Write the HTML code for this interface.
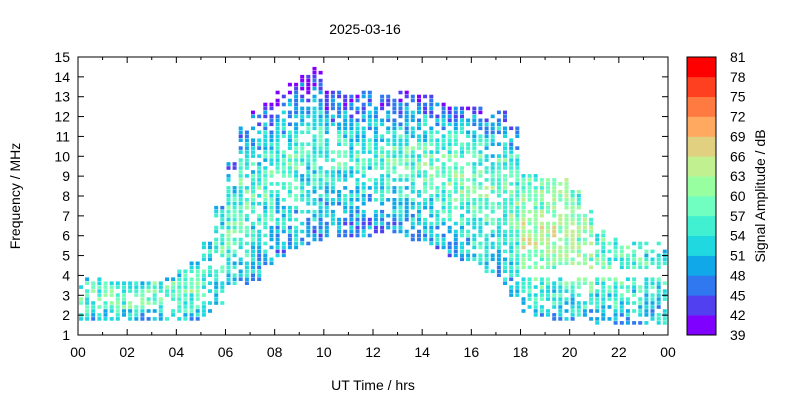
<!DOCTYPE html>
<html><head><meta charset="utf-8"><style>
html,body{margin:0;padding:0;background:#fff;}
svg{display:block;font-family:"Liberation Sans",sans-serif;}
</style></head><body>
<svg id="chart" width="800" height="400" viewBox="0 0 800 400">
<text x="365" y="34" text-anchor="middle" font-size="14">2025-03-16</text>
<g id="cells"></g>
<g id="axes"></g>
<text x="373" y="390" text-anchor="middle" font-size="14">UT Time / hrs</text>
<text transform="translate(20,196) rotate(-90)" text-anchor="middle" font-size="14">Frequency / MHz</text>
<g id="cbar"></g>
<text transform="translate(765,196) rotate(-90)" text-anchor="middle" font-size="14">Signal Amplitude / dB</text>
</svg>
<script>
// band envelope per half hour (t = 0, 0.5, ... 24)
const bandLow = [1.7,1.7,1.7,1.7,1.7,1.7,1.7,1.7,1.7,1.8,1.9,2.5,3.5,3.5,3.8,4.5,5,5.3,5.5,5.8,6,6,6,6,6.1,6.2,6,5.8,5.6,5.3,5,4.7,4.5,4.2,3.5,2.9,2.2,1.9,1.8,1.8,1.7,1.7,1.6,1.6,1.6,1.6,1.6,1.6,1.6];
const bandHigh = [3.9,3.9,3.7,3.7,3.6,3.7,3.8,3.9,4.2,4.6,5.8,7.5,9.7,11.5,12.3,12.7,13.3,13.7,14.2,14.4,13.3,13.3,13.2,13.3,13.2,13.2,13.3,13.2,13.1,12.7,12.6,12.6,12.4,12.2,12.3,11.6,9,9,8.9,8.9,8.3,7.3,6.2,5.9,5.8,5.8,5.8,5.7,5.5];
// hourly amplitude profile (dB) at top / middle / bottom of band
const ampTop = [54,54,54,54,54,50,46,43,41,40,41,42,42,42,43,44,45,47,57,60,58,56,55,54,54];
const ampMid = [58,58,58,59,59,57,58,57,57,56,56,56,57,58,59,60,60,60,63,63,61,58,57,56,56];
const ampBot = [50,50,50,50,51,51,51,50,49,48,48,47,47,48,49,49,50,50,51,51,50,50,50,50,50];
// gap in band (MHz) per hour, 0 = none
const gapLow = [0,0,0,0,0,0,0,0,0,0,0,0,0,0,0,0,0,0,3.9,3.9,3.9,3.9,3.9,3.9,3.9];
const gapHigh = [0,0,0,0,0,0,0,0,0,0,0,0,0,0,0,0,0,0,4.4,4.4,4.4,4.4,4.4,4.4,4.4];
const xTicks = ["00","02","04","06","08","10","12","14","16","18","20","22","00"];
const yTicks = [1,2,3,4,5,6,7,8,9,10,11,12,13,14,15];
const cbLabels = [81,78,75,72,69,66,63,60,57,54,51,48,45,42,39];
const cbColors = ["#8000ff","#5040f0","#3078f0","#10a8e8","#20d8e0","#40f0d0","#70ffc0","#98ffa0","#c0f090","#e0d080","#ffa860","#ff7a40","#ff4020","#ff0000"];

const X0=78,X1=668,Y0=57,Y1=335;
const xs=t=>X0+(X1-X0)*t/24;
const ys=f=>Y1-(Y1-Y0)*(f-1)/14;
const NS="http://www.w3.org/2000/svg";
function mk(tag,attrs,parent){const e=document.createElementNS(NS,tag);for(const k in attrs)e.setAttribute(k,attrs[k]);parent.appendChild(e);return e;}
function colorFor(db){let i=Math.floor((db-39)/3);i=Math.max(0,Math.min(13,i));return cbColors[i];}
function hash(a,b){let h=(a*73856093)^(b*19349663);h=(h^(h>>13))*1274126177;h=h^(h>>16);return ((h>>>0)%1000)/1000;}

const cells=document.getElementById('cells');
for(let c=0;c<96;c++){
  const t=c*0.25+0.12;
  const hi=Math.min(48,Math.floor(c/2));
  const hr=Math.min(24,Math.floor(c/4));
  const lo=bandLow[hi], up=bandHigh[hi];
  for(let r=0;r<80;r++){
    const f=1+r*0.2;
    if(f<lo||f>up)continue;
    if(gapLow[hr]>0&&f>gapLow[hr]&&f<gapHigh[hr])continue;
    const h=hash(c,r);
    if(h<0.22)continue;
    const rel=(f-lo)/Math.max(0.1,up-lo);
    let a;
    if(rel>0.5)a=ampMid[hr]+(ampTop[hr]-ampMid[hr])*Math.pow((rel-0.5)/0.5,1.5);
    else a=ampBot[hr]+(ampMid[hr]-ampBot[hr])*(rel/0.5);
    a+= (hash(r,c+7)-0.5)*10;
    const el=mk('rect',{x:(xs(t)-2).toFixed(1),y:(ys(f)-2).toFixed(1),width:4,height:3.6,fill:colorFor(a)},cells);
    
    
  }
}

const axes=document.getElementById('axes');
mk('rect',{x:X0,y:Y0,width:X1-X0,height:Y1-Y0,fill:'none',stroke:'#000','stroke-width':1},axes);
xTicks.forEach((lab,i)=>{
  const x=xs(i*2);
  mk('line',{x1:x,y1:Y1,x2:x,y2:Y1-6,stroke:'#000'},axes);
  mk('line',{x1:x,y1:Y0,x2:x,y2:Y0+6,stroke:'#000'},axes);
  if(i<12){const xm=xs(i*2+1);
    mk('line',{x1:xm,y1:Y1,x2:xm,y2:Y1-3,stroke:'#000'},axes);
    mk('line',{x1:xm,y1:Y0,x2:xm,y2:Y0+3,stroke:'#000'},axes);}
  const tx=mk('text',{x:x,y:Y1+22,'text-anchor':'middle','font-size':14},axes);
  tx.textContent=lab;
  
  
});
yTicks.forEach(v=>{
  const y=ys(v);
  mk('line',{x1:X0,y1:y,x2:X0+6,y2:y,stroke:'#000'},axes);
  mk('line',{x1:X1,y1:y,x2:X1-6,y2:y,stroke:'#000'},axes);
  const tx=mk('text',{x:X0-8,y:y+5,'text-anchor':'end','font-size':14},axes);
  tx.textContent=v;
  
  
});

const cb=document.getElementById('cbar');
const CX=687,CW=29,bh=(Y1-Y0)/14;
cbColors.forEach((col,i)=>{
  const el=mk('rect',{x:CX,y:Y1-(i+1)*bh,width:CW,height:bh+0.3,fill:col},cb);
  
  
});
mk('rect',{x:CX,y:Y0,width:CW,height:Y1-Y0,fill:'none',stroke:'#000'},cb);
cbLabels.forEach((v,i)=>{
  const tx=mk('text',{x:730,y:Y0+i*bh+5,'font-size':14},cb);
  tx.textContent=v;
  
  
});
</script>
</body></html>
